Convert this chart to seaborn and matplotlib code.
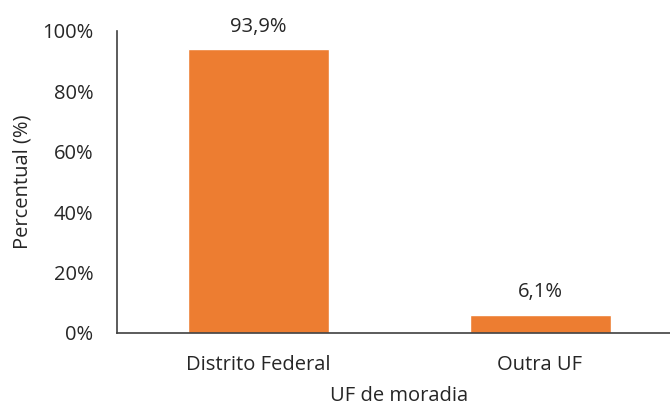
import pandas as pd
import matplotlib.pyplot as plt
import seaborn as sns

categorias = ["Distrito Federal", "Outra UF"]
percentual = [93.9, 6.1]
rotulos = ["93,9%", "6,1%"]

df = pd.DataFrame({"uf": categorias, "pct": percentual})

sns.set_style("white")
plt.rcParams["font.family"] = ["Open Sans", "DejaVu Sans"]
txt = "#262626"
fs = 14.5

fig = plt.figure(figsize=(6.7, 4.08), dpi=100)
ax = fig.add_axes([117 / 670, 1 - 333 / 408, 564 / 670, 302 / 408])

sns.barplot(data=df, x="uf", y="pct", color="#ED7D31", saturation=1, width=0.5, ax=ax)

for i, lab in enumerate(rotulos):
    ax.annotate(lab, (i, percentual[i]), xytext=(0, 9), textcoords="offset points",
                ha="center", va="bottom", fontsize=fs, color=txt)

ax.set_ylim(0, 100)
ax.set_xlim(-0.5, 1.5)
ax.set_yticks(range(0, 101, 20))
ax.set_yticklabels([f"{v}%" for v in range(0, 101, 20)])
ax.tick_params(axis="y", length=0, labelsize=fs, colors=txt, pad=17)
ax.tick_params(axis="x", length=0, labelsize=fs, colors=txt, pad=16)
ax.set_xlabel("UF de moradia", fontsize=fs, color=txt, labelpad=8)
ax.set_ylabel("Percentual (%)", fontsize=fs, color=txt, labelpad=7)

sns.despine(ax=ax)
for s in ["left", "bottom"]:
    ax.spines[s].set_color("#404040")
    ax.spines[s].set_linewidth(1.2)

fig.savefig("out.png", dpi=100)
